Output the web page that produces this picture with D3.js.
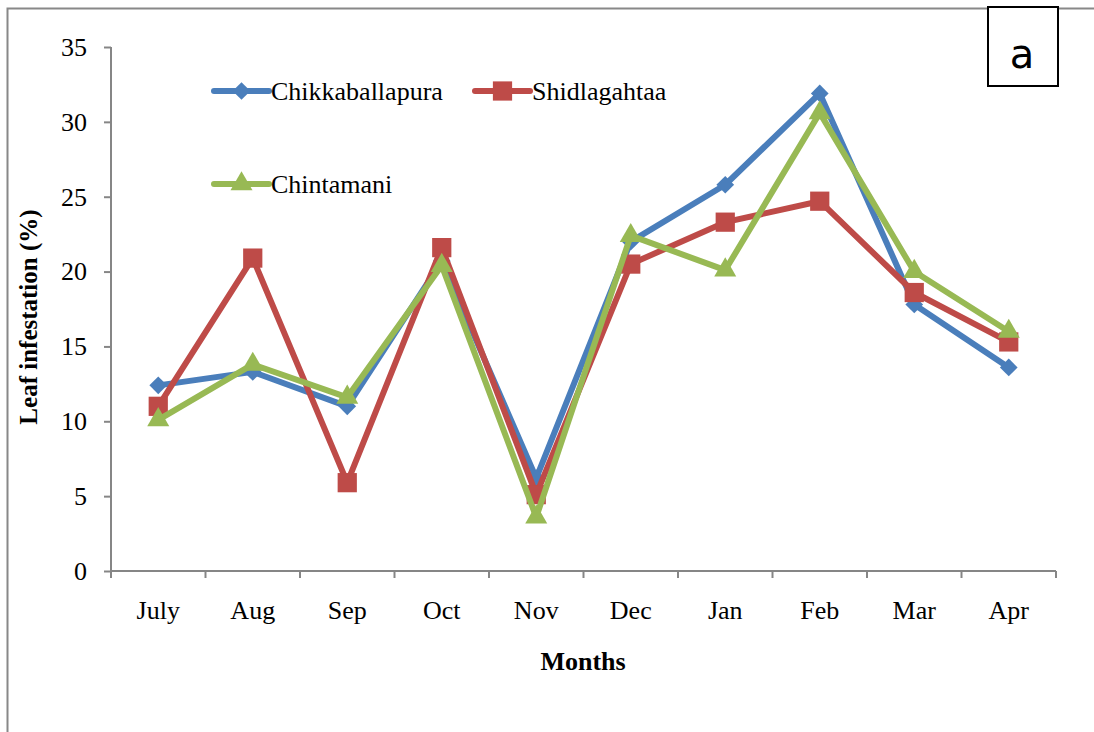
<!DOCTYPE html>
<html>
<head>
<meta charset="utf-8">
<script src="https://cdn.jsdelivr.net/npm/d3@7"></script>
<style>
  body { margin: 0; background: #fff; }
  svg { display: block; }
</style>
</head>
<body>
<svg id="chart" width="1094" height="732"></svg>
<script>
const months = ["July", "Aug", "Sep", "Oct", "Nov", "Dec", "Jan", "Feb", "Mar", "Apr"];
const chikkaballapura = [12.4, 13.3, 11.0, 20.7, 6.2, 22.0, 25.8, 31.9, 17.8, 13.6];
const shidlagahtaa = [11.0, 20.9, 5.9, 21.6, 5.1, 20.5, 23.3, 24.7, 18.6, 15.3];
const chintamani = [10.1, 13.8, 11.6, 20.4, 3.6, 22.4, 20.1, 30.6, 20.0, 16.0];
const yTicks = [0, 5, 10, 15, 20, 25, 30, 35];

const series = [
  { name: "Chikkaballapura", values: chikkaballapura, color: "#4A7EBB", shape: d3.symbolDiamond2, size: 200 },
  { name: "Shidlagahtaa", values: shidlagahtaa, color: "#BE4B48", shape: d3.symbolSquare, size: 370 },
  { name: "Chintamani", values: chintamani, color: "#98B954", shape: d3.symbolTriangle, size: 210 }
];

const svg = d3.select("#chart");
const font = "'Liberation Serif', 'Times New Roman', serif";

// outer frame (only left and top visible)
svg.append("path")
  .attr("d", "M7.5,740 L7.5,8.5 L1100,8.5")
  .attr("fill", "none").attr("stroke", "#888").attr("stroke-width", 2);

const mLeft = 111, mRight = 1056, mTop = 47, mBottom = 571;

const x = d3.scaleBand().domain(months).range([mLeft, mRight]);
const y = d3.scaleLinear().domain([0, 35]).range([mBottom, mTop]);

const xAxis = svg.append("g")
  .attr("transform", `translate(0,${mBottom})`)
  .call(d3.axisBottom(x).tickSize(0).tickPadding(30));
xAxis.select(".domain").remove();
xAxis.append("line").attr("x1", mLeft).attr("x2", mRight)
  .attr("stroke", "#868686").attr("stroke-width", 2);
xAxis.selectAll(".bnd")
  .data(d3.range(months.length + 1))
  .enter().append("line")
  .attr("x1", i => mLeft + i * x.step()).attr("x2", i => mLeft + i * x.step())
  .attr("y1", 0).attr("y2", 7)
  .attr("stroke", "#868686").attr("stroke-width", 2);
xAxis.selectAll("text")
  .attr("font-family", font).attr("font-size", 26).attr("fill", "#000");

const yAxis = svg.append("g")
  .attr("transform", `translate(${mLeft},0)`)
  .call(d3.axisLeft(y).tickValues(yTicks).tickSize(7).tickPadding(17));
yAxis.select(".domain").attr("stroke", "#868686").attr("stroke-width", 2)
  .attr("d", `M0,${mTop}V${mBottom}`);
yAxis.selectAll(".tick line").attr("stroke", "#868686").attr("stroke-width", 2);
yAxis.selectAll("text")
  .attr("font-family", font).attr("font-size", 26).attr("fill", "#000");

svg.append("text")
  .attr("x", 583).attr("y", 670)
  .attr("text-anchor", "middle")
  .attr("font-family", font).attr("font-size", 26).attr("font-weight", "bold")
  .text("Months");

svg.append("text")
  .attr("transform", "translate(37,317) rotate(-90)")
  .attr("text-anchor", "middle")
  .attr("font-family", font).attr("font-size", 25).attr("font-weight", "bold")
  .text("Leaf infestation (%)");

const line = d3.line()
  .x((d, i) => x(months[i]) + x.bandwidth() / 2)
  .y(d => y(d));

series.forEach(s => {
  const g = svg.append("g");
  g.append("path")
    .datum(s.values)
    .attr("d", line)
    .attr("fill", "none")
    .attr("stroke", s.color)
    .attr("stroke-width", 6)
    .attr("stroke-linejoin", "round");
  g.selectAll("path.m")
    .data(s.values)
    .enter().append("path")
    .attr("class", "m")
    .attr("transform", (d, i) => `translate(${x(months[i]) + x.bandwidth() / 2},${y(d)})`)
    .attr("d", d3.symbol().type(s.shape).size(s.size))
    .attr("fill", s.color);
});

// legend
const legendPos = [
  { lx: 214, ly: 91 },
  { lx: 475, ly: 91 },
  { lx: 214, ly: 184 }
];
series.forEach((s, i) => {
  const p = legendPos[i];
  const g = svg.append("g").attr("transform", `translate(${p.lx},${p.ly})`);
  g.append("line").attr("x1", 0).attr("x2", 55)
    .attr("stroke", s.color).attr("stroke-width", 6).attr("stroke-linecap", "round");
  g.append("path")
    .attr("transform", "translate(27.5,0)")
    .attr("d", d3.symbol().type(s.shape).size(s.size))
    .attr("fill", s.color);
  g.append("text")
    .attr("x", 57).attr("y", 9)
    .attr("font-family", font).attr("font-size", 26).attr("fill", "#000")
    .text(s.name);
});

// panel label
svg.append("rect")
  .attr("x", 988).attr("y", 7).attr("width", 70).attr("height", 79)
  .attr("fill", "#fff").attr("stroke", "#000").attr("stroke-width", 2);
svg.append("text")
  .attr("x", 1022).attr("y", 68)
  .attr("text-anchor", "middle")
  .attr("font-family", "'DejaVu Sans', 'Open Sans', sans-serif")
  .attr("font-size", 40).attr("fill", "#000")
  .text("a");
</script>
</body>
</html>
